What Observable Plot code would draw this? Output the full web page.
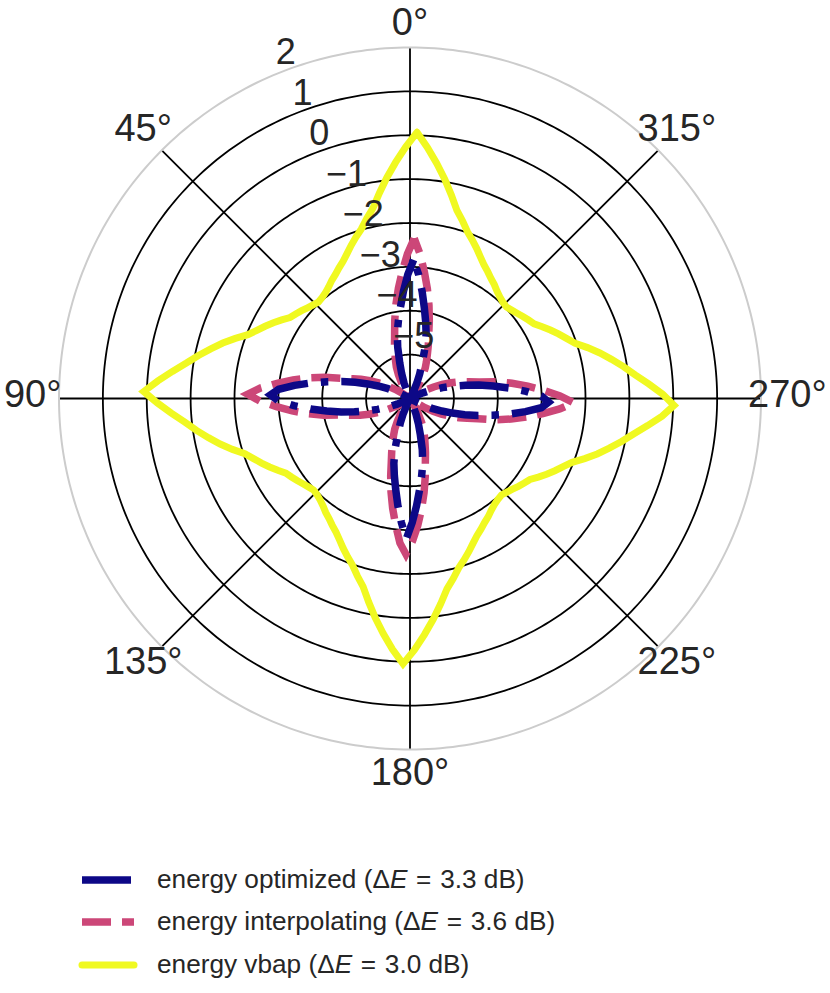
<!DOCTYPE html>
<html><head><meta charset="utf-8">
<script src="https://cdn.jsdelivr.net/npm/d3@7"></script>
<script src="https://cdn.jsdelivr.net/npm/@observablehq/plot@0.6"></script>
<style>
html,body{margin:0;padding:0;background:#fff;}
#wrap{position:relative;width:830px;height:993px;font-family:"Liberation Sans",Arial,sans-serif;}
#chart{position:absolute;left:0;top:0;}
#legend{position:absolute;left:0;top:850px;}
</style></head><body>
<div id="wrap"><div id="chart"></div>
<svg id="legend" width="830" height="143"></svg></div>
<script>
// azimuth (degrees, counter-clockwise from the top) at which each value is read
const azimuth = [
  -1.5,1,3.5,6,8.5,11,13.5,16,18.5,21,23.5,26,28.5,31,33.5,36,38.5,41,43.5,46,48.5,51,53.5,56,58.5,61,63.5,66,68.5,71,73.5,76,78.5,81,83.5,86,
  88.5,91,93.5,96,98.5,101,103.5,106,108.5,111,113.5,116,118.5,121,123.5,126,128.5,131,133.5,136,138.5,141,143.5,146,148.5,151,153.5,156,158.5,161,163.5,166,168.5,171,173.5,176,
  178.5,181,183.5,186,188.5,191,193.5,196,198.5,201,203.5,206,208.5,211,213.5,216,218.5,221,223.5,226,228.5,231,233.5,236,238.5,241,243.5,246,248.5,251,253.5,256,258.5,261,263.5,266,
  268.5,271,273.5,276,278.5,281,283.5,286,288.5,291,293.5,296,298.5,301,303.5,306,308.5,311,313.5,316,318.5,321,323.5,326,328.5,331,333.5,336,338.5,341,343.5,346,348.5,351,353.5,356,
  358.5];
// energy in dB (values at or below -6 sit at the centre)
const energyOptimized = [
  -2.84,-3.17,-3.55,-3.91,-4.21,-4.48,-4.80,-5.15,-5.40,-5.62,-5.85,-6,-6,-6,-6,-6,-6,-6,-6,-6,-6,-6,-6,-6,-6,-5.9,-5.68,-5.45,-5.22,-4.98,-4.70,-4.40,-4.08,-3.72,-3.35,-3.0,
  -2.82,-3.0,-3.35,-3.72,-4.08,-4.40,-4.70,-4.98,-5.22,-5.45,-5.68,-5.9,-6,-6,-6,-6,-6,-6,-6,-6,-6,-6,-6,-6,-6,-6,-5.85,-5.62,-5.40,-5.15,-4.80,-4.48,-4.21,-3.91,-3.55,-3.17,
  -2.80,-3.17,-3.55,-3.91,-4.21,-4.48,-4.80,-5.15,-5.40,-5.62,-5.85,-6,-6,-6,-6,-6,-6,-6,-6,-6,-6,-6,-6,-6,-6,-5.9,-5.68,-5.45,-5.22,-4.98,-4.70,-4.40,-4.08,-3.72,-3.35,-3.0,
  -2.84,-3.0,-3.35,-3.72,-4.08,-4.40,-4.70,-4.98,-5.22,-5.45,-5.68,-5.9,-6,-6,-6,-6,-6,-6,-6,-6,-6,-6,-6,-6,-6,-6,-5.85,-5.62,-5.40,-5.15,-4.80,-4.48,-4.21,-3.91,-3.55,-3.17,
  -2.84];
const energyInterpolating = [
  -2.35,-2.7,-3.1,-3.47,-3.83,-4.18,-4.5,-4.72,-4.92,-5.08,-5.22,-5.4,-5.6,-5.8,-6,-6,-6,-6,-6,-6,-6,-6,-6,-5.8,-5.6,-5.4,-5.2,-5.0,-4.8,-4.62,-4.38,-4.0,-3.65,-3.3,-2.95,-2.58,
  -2.3,-2.58,-2.95,-3.3,-3.65,-4.0,-4.38,-4.62,-4.8,-5.0,-5.2,-5.4,-5.6,-5.8,-6,-6,-6,-6,-6,-6,-6,-6,-6,-5.8,-5.6,-5.4,-5.22,-5.08,-4.92,-4.72,-4.5,-4.18,-3.83,-3.47,-3.1,-2.7,
  -2.45,-2.75,-3.1,-3.47,-3.83,-4.18,-4.5,-4.72,-4.92,-5.08,-5.22,-5.4,-5.6,-5.8,-6,-6,-6,-6,-6,-6,-6,-6,-6,-5.8,-5.6,-5.4,-5.2,-5.0,-4.8,-4.62,-4.38,-4.0,-3.65,-3.3,-2.95,-2.58,
  -2.27,-2.58,-2.95,-3.3,-3.65,-4.0,-4.38,-4.62,-4.8,-5.0,-5.2,-5.4,-5.6,-5.8,-6,-6,-6,-6,-6,-6,-6,-6,-6,-5.8,-5.6,-5.4,-5.22,-5.08,-4.92,-4.72,-4.5,-4.18,-3.83,-3.47,-3.1,-2.7,
  -2.35];
const energyVbap = [
  0.07,-0.27,-0.61,-0.94,-1.27,-1.58,-1.78,-1.98,-2.12,-2.26,-2.40,-2.52,-2.61,-2.70,-2.77,-2.85,-2.91,-2.95,-2.97,-2.93,-2.88,-2.82,-2.76,-2.70,-2.57,-2.44,-2.31,-2.18,-2.03,-1.79,-1.55,-1.32,-1.08,-0.84,-0.55,-0.24,
  0.07,-0.24,-0.55,-0.84,-1.08,-1.32,-1.55,-1.79,-2.03,-2.18,-2.31,-2.44,-2.57,-2.70,-2.76,-2.82,-2.88,-2.93,-2.97,-2.95,-2.91,-2.85,-2.77,-2.70,-2.61,-2.52,-2.40,-2.26,-2.12,-1.98,-1.78,-1.58,-1.27,-0.94,-0.61,-0.27,
  0.05,-0.27,-0.61,-0.94,-1.27,-1.58,-1.78,-1.98,-2.12,-2.26,-2.40,-2.52,-2.61,-2.70,-2.77,-2.85,-2.91,-2.95,-2.97,-2.93,-2.88,-2.82,-2.76,-2.70,-2.57,-2.44,-2.31,-2.18,-2.03,-1.79,-1.55,-1.32,-1.08,-0.84,-0.55,-0.24,
  0.02,-0.24,-0.55,-0.84,-1.08,-1.32,-1.55,-1.79,-2.03,-2.18,-2.31,-2.44,-2.57,-2.70,-2.76,-2.82,-2.88,-2.93,-2.97,-2.95,-2.91,-2.85,-2.77,-2.70,-2.61,-2.52,-2.40,-2.26,-2.12,-1.98,-1.78,-1.58,-1.27,-0.94,-0.61,-0.27,
  0.07];

const seriesNames = ["energy optimized", "energy interpolating", "energy vbap"];
const seriesDeltaE = ["3.3", "3.6", "3.0"];
const seriesColors = ["#0d0887", "#cc4778", "#f0f921"];
const seriesDash = ["49,13,7.5,13", "29,11", null];

const radialTicks = [-5, -4, -3, -2, -1, 0, 1, 2];
const radialTickLabels = ["−5", "−4", "−3", "−2", "−1", "0", "1", "2"];
const angleTicks = [0, 45, 90, 135, 180, 225, 270, 315];
const angleTickLabels = ["0°", "45°", "90°", "135°", "180°", "225°", "270°", "315°"];
const rMin = -6, rMax = 2;
const radialLabelAngle = 22.5;

const curves = [energyOptimized, energyInterpolating, energyVbap];
curves.forEach((c, k) => { if (c.length !== azimuth.length) throw new Error("length mismatch " + k + ": " + c.length); });

const rad = Math.PI / 180;
const span = rMax - rMin;
const px = (a, r) => -(Math.max(r, rMin) - rMin) * Math.sin(a * rad);
const py = (a, r) => (Math.max(r, rMin) - rMin) * Math.cos(a * rad);

const series = curves.map((vals, k) => azimuth.map((a, i) => ({a, r: vals[i], k})));

const ringAngles = d3.range(0, 361, 1);
const rings = radialTicks.flatMap(t => ringAngles.map(a => ({t, a})));

const textColor = "#262626";
const labelR = 8.6;

const lineOpts = (k) => ({
  x: d => px(d.a, d.r), y: d => py(d.a, d.r),
  stroke: seriesColors[k], strokeWidth: k === 2 ? 7 : 7.5,
  strokeDasharray: seriesDash[k] || undefined,
  strokeLinejoin: "miter", strokeMiterlimit: 10,
  strokeLinecap: k === 2 ? "round" : "butt", curve: "linear"
});

const angleLabelOpts = (dy) => ({
  x: a => -labelR * Math.sin(a * rad), y: a => labelR * Math.cos(a * rad),
  text: a => angleTickLabels[angleTicks.indexOf(a)],
  textAnchor: "middle", lineAnchor: "middle", dy,
  fontSize: 38, fill: textColor
});

const chart = Plot.plot({
  width: 830, height: 850,
  margin: 0,
  style: {background: "white", fontFamily: "'Liberation Sans', Arial, sans-serif"},
  x: {domain: [-span, span], range: [409.5 - 351, 409.5 + 351], axis: null},
  y: {domain: [-span, span], range: [398 + 351, 398 - 351], axis: null},
  marks: [
    Plot.line(rings.filter(d => d.t < rMax), {
      x: d => px(d.a, d.t), y: d => py(d.a, d.t), z: "t",
      stroke: "black", strokeWidth: 1.8
    }),
    Plot.link(angleTicks, {
      x1: () => 0, y1: () => 0,
      x2: a => px(a, rMax), y2: a => py(a, rMax),
      stroke: "black", strokeWidth: 1.8
    }),
    Plot.line(series[1], lineOpts(1)),
    Plot.line(series[0], lineOpts(0)),
    Plot.line(series[2], lineOpts(2)),
    Plot.line(rings.filter(d => d.t === rMax), {
      x: d => px(d.a, d.t), y: d => py(d.a, d.t),
      stroke: "#cccccc", strokeWidth: 2
    }),
    Plot.text(radialTicks, {
      x: t => px(radialLabelAngle, t), y: t => py(radialLabelAngle, t),
      text: (t, i) => radialTickLabels[i],
      textAnchor: "start", lineAnchor: "bottom", dy: -10,
      fontSize: 36, fill: textColor
    }),
    Plot.text(angleTicks.filter(a => a !== 0), angleLabelOpts(-3.3)),
    Plot.text(angleTicks.filter(a => a === 0), angleLabelOpts(2))
  ]
});
document.getElementById("chart").appendChild(chart);

// legend below the chart
const leg = d3.select("#legend");
const rowY = [30, 72, 115];
seriesNames.forEach((name, k) => {
  leg.append("line")
    .attr("x1", 82).attr("x2", 134).attr("y1", rowY[k]).attr("y2", rowY[k])
    .attr("stroke", seriesColors[k]).attr("stroke-width", k === 2 ? 7 : 7.5)
    .attr("stroke-dasharray", seriesDash[k])
    .attr("stroke-linecap", k === 2 ? "round" : "butt");
  const t = leg.append("text")
    .attr("x", 157).attr("y", rowY[k] + 8)
    .attr("font-size", 26.2).attr("fill", textColor)
    .attr("font-family", "'Liberation Sans', Arial, sans-serif");
  t.append("tspan").text(name + " (Δ");
  t.append("tspan").attr("font-style", "italic").text("E");
  t.append("tspan").text("\u2004=\u2004" + seriesDeltaE[k] + " dB)");
});
</script>
</body></html>
